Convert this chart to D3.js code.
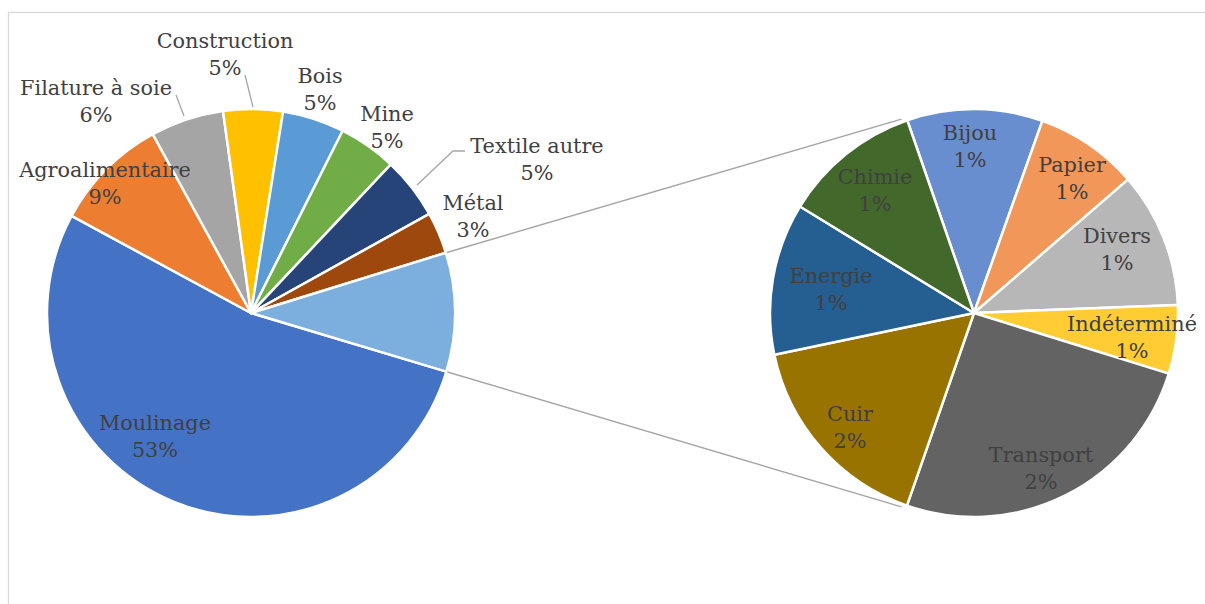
<!DOCTYPE html>
<html>
<head>
<meta charset="utf-8">
<script src="https://cdn.jsdelivr.net/npm/d3@7"></script>
<style>
  html, body { margin: 0; padding: 0; background: #fff; }
  svg { display: block; }
  text { font-family: Georgia, "DejaVu Serif", serif; fill: #404040; }
</style>
</head>
<body>
<svg id="chart" width="1205" height="604"></svg>
<script>
// ---- data (percent of total) ----
const mainCategories = ["Moulinage", "Agroalimentaire", "Filature à soie", "Construction", "Bois", "Mine", "Textile autre", "Métal", "Autres"];
const mainValues     = [53.2, 9.1, 5.8, 4.7, 4.9, 4.6, 4.9, 3.3, 9.4];
const mainLabels     = ["53%", "9%", "6%", "5%", "5%", "5%", "5%", "3%", null];

const subCategories  = ["Bijou", "Papier", "Divers", "Indéterminé", "Transport", "Cuir", "Energie", "Chimie"];
const subValues      = [1.01, 0.77, 1.01, 0.51, 2.40, 1.54, 1.13, 1.03];
const subLabels      = ["1%", "1%", "1%", "1%", "2%", "2%", "1%", "1%"];

// ---- styles / layout ----
const mainColors = ["#4472C4", "#ED7D31", "#A5A5A5", "#FFC000", "#5B9BD5", "#70AD47", "#264478", "#9E480E", "#7CAFDD"];
const subColors  = ["#698ED0", "#F1975A", "#B7B7B7", "#FFCD33", "#636363", "#997300", "#255E91", "#43682B"];

const R = 204;
const mainC = {x: 251, y: 313};
const subC  = {x: 974, y: 313};
const deg = Math.PI / 180;
const mainStart = 106.7 * deg;
const subStart = -19.1 * deg;
const connectorAngle = 20.5 * deg;
const lineGap = 27;
const fontSize = 20.8;

// label anchor (x center, first-line baseline) as offset from pie centre
const mainLabelPos = [[-96, 117], [-146, -136], [-155, -218], [-26, -265], [69, -230], [136, -192], [286, -160], [222, -103], null];
const subLabelPos  = [[-4, -173], [98, -141], [143, -70], [158, 18], [67, 149], [-124, 108], [-143, -30], [-99, -129]];
// leader lines (offset points from pie centre)
const mainLeaders = [null, null, [[-75, -218], [-67, -197]], [[-6, -238], [2, -206]], null, null, [[166, -128], [202, -162], [214, -162]], null, null];

const svg = d3.select("#chart");

// chart area border
svg.append("rect")
  .attr("x", 8.5).attr("y", 12.5)
  .attr("width", 1260).attr("height", 700)
  .attr("fill", "none").attr("stroke", "#d9d9d9").attr("stroke-width", 1.3);

const arc = d3.arc().innerRadius(0).outerRadius(R);

// ---- main pie ----
const mainPie = d3.pie().sort(null).value(d => d)
  .startAngle(mainStart).endAngle(mainStart + 2 * Math.PI)(mainValues);
const gMain = svg.append("g").attr("transform", `translate(${mainC.x},${mainC.y})`);
gMain.selectAll("path").data(mainPie).join("path")
  .attr("d", arc)
  .attr("fill", (d, i) => mainColors[i])
  .attr("stroke", "#fff").attr("stroke-width", 2.5).attr("stroke-linejoin", "round");

// ---- sub pie ----
const subPie = d3.pie().sort(null).value(d => d)
  .startAngle(subStart).endAngle(subStart + 2 * Math.PI)(subValues);
const gSub = svg.append("g").attr("transform", `translate(${subC.x},${subC.y})`);
gSub.selectAll("path").data(subPie).join("path")
  .attr("d", arc)
  .attr("fill", (d, i) => subColors[i])
  .attr("stroke", "#fff").attr("stroke-width", 2.5).attr("stroke-linejoin", "round");

// ---- connector lines ----
const other = mainPie[mainPie.length - 1];
const polar = (c, a, r) => [c.x + r * Math.sin(a), c.y - r * Math.cos(a)];
const conn = [
  [polar(mainC, other.startAngle, R + 1), polar(subC, -connectorAngle, R + 3)],
  [polar(mainC, other.endAngle, R + 1), polar(subC, Math.PI + connectorAngle, R + 3)]
];
svg.selectAll("line.conn").data(conn).join("line")
  .attr("class", "conn")
  .attr("x1", d => d[0][0]).attr("y1", d => d[0][1])
  .attr("x2", d => d[1][0]).attr("y2", d => d[1][1])
  .attr("stroke", "#A6A6A6").attr("stroke-width", 1.5);

// ---- leader lines ----
const line = d3.line();
mainLeaders.forEach(pts => {
  if (!pts) return;
  gMain.append("path").attr("d", line(pts))
    .attr("fill", "none").attr("stroke", "#A6A6A6").attr("stroke-width", 1.3);
});

// ---- labels ----
function addLabels(g, cats, labels, pos) {
  cats.forEach((c, i) => {
    if (!pos[i] || labels[i] == null) return;
    const t = g.append("text")
      .attr("text-anchor", "middle")
      .attr("font-size", fontSize);
    t.append("tspan").attr("x", pos[i][0]).attr("y", pos[i][1]).text(c);
    t.append("tspan").attr("x", pos[i][0]).attr("y", pos[i][1] + lineGap).text(labels[i]);
  });
}
addLabels(gMain, mainCategories, mainLabels, mainLabelPos);
addLabels(gSub, subCategories, subLabels, subLabelPos);
</script>
</body>
</html>
